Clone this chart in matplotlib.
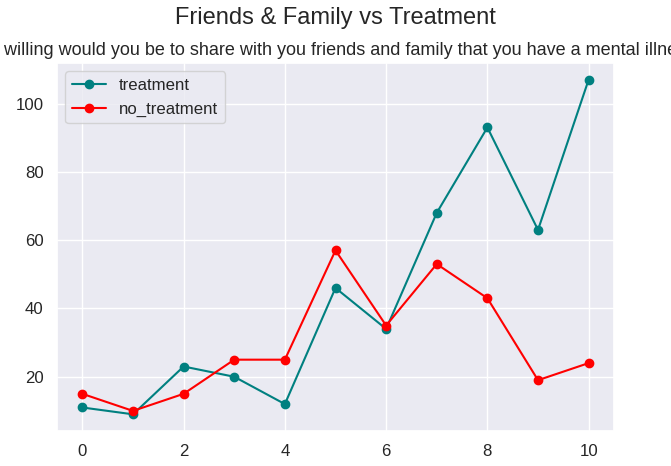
import matplotlib
matplotlib.use('Agg')
import matplotlib.pyplot as plt
import seaborn as sns

sns.set_theme(style='darkgrid', font_scale=1.1)
plt.rcParams['font.family'] = ['Liberation Sans', 'DejaVu Sans']

x = [0, 1, 2, 3, 4, 5, 6, 7, 8, 9, 10]
treatment = [11, 9, 23, 20, 12, 46, 34, 68, 93, 63, 107]
no_treatment = [15, 10, 15, 25, 25, 57, 35, 53, 43, 19, 24]

fig, ax = plt.subplots(figsize=(6.71, 4.66), dpi=100)
ax.plot(x, treatment, marker='o', color='teal', label='treatment')
ax.plot(x, no_treatment, marker='o', color='red', label='no_treatment')
fig.suptitle('Friends & Family vs Treatment', fontsize=17, y=0.985)
ax.set_title('how willing would you be to share with you friends and family that you have a mental illness?', fontsize=13)
ax.legend(loc='upper left')
fig.subplots_adjust(left=0.085, right=0.915, top=0.865, bottom=0.075)
fig.savefig('out.png')
